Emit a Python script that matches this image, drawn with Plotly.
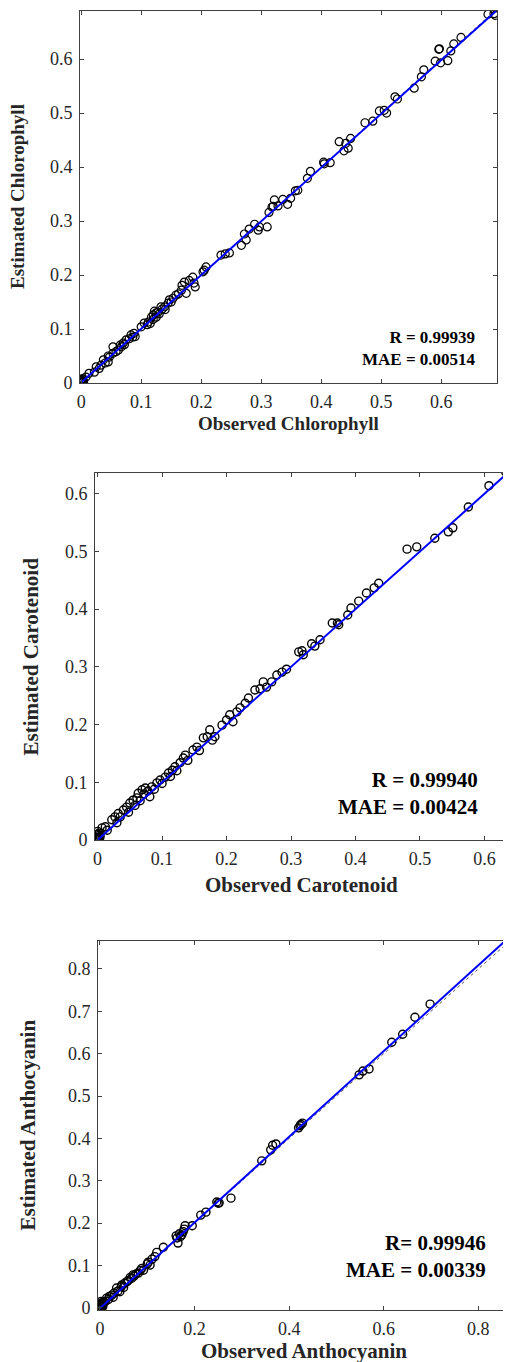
import numpy as np
import plotly.graph_objects as go

W, H = 511, 1362
OFF = 8  # the page body keeps its default 8px margin

# ---- data ----
obs_chl = [0.0, 0.001, 0.002, 0.003, 0.0, 0.004, 0.001, 0.002, 0.003, 0.008, 0.013, 0.022, 0.025,
           0.033, 0.037, 0.045, 0.047, 0.053, 0.053, 0.062, 0.067, 0.07, 0.075, 0.086, 0.083, 0.088,
           0.1, 0.105, 0.112, 0.117, 0.125, 0.122, 0.128, 0.133, 0.139, 0.145, 0.147, 0.153, 0.158,
           0.167, 0.168, 0.175, 0.172, 0.18, 0.186, 0.19, 0.188, 0.203, 0.205, 0.208, 0.233, 0.24,
           0.247, 0.267, 0.272, 0.275, 0.28, 0.289, 0.297, 0.295, 0.31, 0.313, 0.32, 0.322, 0.318,
           0.328, 0.336, 0.344, 0.349, 0.361, 0.357, 0.377, 0.382, 0.404, 0.405, 0.415, 0.43, 0.438,
           0.441, 0.445, 0.449, 0.473, 0.486, 0.497, 0.505, 0.509, 0.523, 0.527, 0.555, 0.567, 0.571,
           0.59, 0.596, 0.597, 0.599, 0.611, 0.616, 0.621, 0.633, 0.678, 0.69, 0.688,
           0.03, 0.04, 0.045, 0.058, 0.065, 0.072, 0.08, 0.09, 0.11, 0.115, 0.12, 0.13, 0.135, 0.14,
           0.15, 0.162, 0.12, 0.125]
est_chl = [0.0, 0.004, 0.008, 0.001, 0.006, 0.003, 0.001, 0.002, 0.006, 0.011, 0.018, 0.02, 0.03,
           0.033, 0.043, 0.039, 0.048, 0.055, 0.067, 0.061, 0.067, 0.074, 0.08, 0.085, 0.089, 0.092,
           0.104, 0.111, 0.113, 0.122, 0.122, 0.133, 0.131, 0.141, 0.141, 0.148, 0.154, 0.157, 0.163,
           0.172, 0.181, 0.166, 0.187, 0.19, 0.196, 0.178, 0.185, 0.206, 0.209, 0.215, 0.237, 0.239,
           0.241, 0.255, 0.276, 0.265, 0.285, 0.294, 0.289, 0.283, 0.289, 0.316, 0.327, 0.339, 0.326,
           0.328, 0.34, 0.331, 0.342, 0.357, 0.356, 0.379, 0.392, 0.409, 0.406, 0.408, 0.447, 0.43,
           0.444, 0.435, 0.453, 0.482, 0.485, 0.504, 0.505, 0.5, 0.53, 0.526, 0.546, 0.567, 0.58,
           0.596, 0.618, 0.619, 0.593, 0.597, 0.615, 0.628, 0.64, 0.683, 0.681, 0.684,
           0.027, 0.037, 0.05, 0.058, 0.07, 0.071, 0.082, 0.086, 0.108, 0.11, 0.118, 0.128, 0.137,
           0.136, 0.15, 0.165, 0.126, 0.13]

obs_car = [0.0, 0.001, 0.002, 0.0, 0.003, 0.001, 0.0, 0.002, 0.004, 0.001, 0.007, 0.012, 0.015,
           0.022, 0.027, 0.032, 0.03, 0.035, 0.04, 0.045, 0.048, 0.05, 0.055, 0.058, 0.061, 0.063,
           0.066, 0.069, 0.072, 0.074, 0.078, 0.081, 0.084, 0.088, 0.092, 0.097, 0.1, 0.105, 0.11,
           0.113, 0.116, 0.12, 0.123, 0.128, 0.133, 0.136, 0.14, 0.148, 0.154, 0.158, 0.164, 0.17,
           0.174, 0.178, 0.182, 0.193, 0.2, 0.205, 0.21, 0.216, 0.221, 0.229, 0.234, 0.244, 0.252,
           0.257, 0.262, 0.27, 0.278, 0.286, 0.293, 0.312, 0.317, 0.319, 0.332, 0.337, 0.345, 0.364,
           0.372, 0.374, 0.388, 0.393, 0.405, 0.417, 0.429, 0.436, 0.48, 0.495, 0.523, 0.544, 0.551,
           0.575, 0.607, 0.633]
est_car = [0.0, 0.005, 0.008, 0.015, 0.002, 0.01, 0.004, 0.012, 0.006, 0.002, 0.021, 0.023, 0.017,
           0.035, 0.04, 0.046, 0.03, 0.04, 0.052, 0.057, 0.048, 0.064, 0.069, 0.06, 0.073, 0.081,
           0.068, 0.087, 0.08, 0.09, 0.085, 0.075, 0.092, 0.088, 0.099, 0.104, 0.098, 0.109, 0.116,
           0.11, 0.121, 0.127, 0.12, 0.134, 0.142, 0.147, 0.138, 0.156, 0.161, 0.155, 0.177, 0.179,
           0.191, 0.173, 0.179, 0.199, 0.208, 0.217, 0.205, 0.222, 0.229, 0.237, 0.246, 0.26, 0.262,
           0.274, 0.265, 0.274, 0.286, 0.291, 0.296, 0.326, 0.328, 0.321, 0.34, 0.336, 0.347, 0.376,
           0.376, 0.373, 0.39, 0.402, 0.414, 0.428, 0.437, 0.445, 0.504, 0.508, 0.523, 0.534, 0.541,
           0.577, 0.614, 0.638]

obs_ant = [0.0, 0.001, 0.002, 0.003, 0.0, 0.005, 0.004, 0.007, 0.002, 0.006, 0.0, 0.009, 0.012,
           0.014, 0.018, 0.02, 0.025, 0.028, 0.03, 0.035, 0.038, 0.042, 0.045, 0.046, 0.05, 0.052,
           0.057, 0.06, 0.064, 0.067, 0.07, 0.072, 0.076, 0.081, 0.085, 0.088, 0.092, 0.1, 0.102,
           0.106, 0.11, 0.116, 0.12, 0.134, 0.161, 0.163, 0.165, 0.168, 0.17, 0.173, 0.176, 0.178,
           0.18, 0.195, 0.213, 0.224, 0.247, 0.25, 0.252, 0.277, 0.342, 0.361, 0.365, 0.372, 0.42,
           0.423, 0.428, 0.425, 0.548, 0.556, 0.569, 0.617, 0.64, 0.666, 0.698, 0.865]
est_ant = [0.0, 0.004, 0.008, 0.001, 0.01, 0.006, 0.012, 0.011, 0.015, 0.003, 0.006, 0.014, 0.016,
           0.023, 0.02, 0.027, 0.03, 0.025, 0.035, 0.047, 0.04, 0.038, 0.05, 0.054, 0.048, 0.058,
           0.062, 0.065, 0.072, 0.07, 0.078, 0.075, 0.08, 0.082, 0.088, 0.093, 0.089, 0.104, 0.108,
           0.101, 0.115, 0.121, 0.131, 0.143, 0.17, 0.165, 0.153, 0.175, 0.168, 0.172, 0.18, 0.186,
           0.194, 0.194, 0.219, 0.226, 0.25, 0.247, 0.248, 0.259, 0.347, 0.373, 0.384, 0.387, 0.425,
           0.43, 0.436, 0.433, 0.55, 0.559, 0.564, 0.627, 0.646, 0.686, 0.717, 0.858]

# fitted line (slope, intercept)
fit_chl = (0.995, 0.001)
fit_car = (1.0, 0.0)
fit_ant = (1.012, -0.001)

panels = [
    dict(x=obs_chl, y=est_chl, fit=fit_chl, xr=[-0.002, 0.693], yr=[0, 0.689],
         xt=[0, 0.1, 0.2, 0.3, 0.4, 0.5, 0.6], yt=[0, 0.1, 0.2, 0.3, 0.4, 0.5, 0.6],
         px=(80, 497), py=(11, 383), xtitle="Observed Chlorophyll", ytitle="Estimated Chlorophyll",
         stats="R = 0.99939<br>MAE = 0.00514", sx=478, sy=348, tsize=19, ssize=17,
         ytx=17, xty=423, mw=1.2),
    dict(x=obs_car, y=est_car, fit=fit_car, xr=[-0.004, 0.635], yr=[0, 0.636],
         xt=[0, 0.1, 0.2, 0.3, 0.4, 0.5, 0.6], yt=[0, 0.1, 0.2, 0.3, 0.4, 0.5, 0.6],
         px=(95, 507), py=(473, 840), xtitle="Observed Carotenoid", ytitle="Estimated Carotenoid",
         stats="R = 0.99940<br>MAE = 0.00424", sx=480, sy=793, tsize=21, ssize=21,
         ytx=30, xty=885, mw=1.4),
    dict(x=obs_ant, y=est_ant, fit=fit_ant, xr=[-0.0042, 0.867], yr=[-0.005, 0.866],
         xt=[0, 0.2, 0.4, 0.6, 0.8], yt=[0, 0.1, 0.2, 0.3, 0.4, 0.5, 0.6, 0.7, 0.8],
         px=(98, 510), py=(941, 1310), xtitle="Observed Anthocyanin", ytitle="Estimated Anthocyanin",
         stats="R= 0.99946<br>MAE = 0.00339", sx=488, sy=1256, tsize=21, ssize=21,
         ytx=27, xty=1351, mw=1.4),
]

FW, FH = W - OFF, H - OFF


def fx_(px):
    return (px - OFF) / FW


def fy_(py):
    return 1 - (py - OFF) / FH


fig = go.Figure()
axis_col = "#404040"
txt_col = "#262626"
font_fam = "Liberation Serif"
layout = {}
annotations = []

for i, p in enumerate(panels, start=1):
    xa = "x" if i == 1 else f"x{i}"
    ya = "y" if i == 1 else f"y{i}"
    # y = x reference (dotted)
    ref = [0, min(p["xr"][1], p["yr"][1])]
    fig.add_trace(go.Scatter(x=ref, y=ref, mode="lines", xaxis=xa, yaxis=ya,
                             line=dict(color="#555555", width=1, dash="dot"), showlegend=False))
    fig.add_trace(go.Scatter(x=p["x"], y=p["y"], mode="markers", xaxis=xa, yaxis=ya,
                             marker=dict(symbol="circle-open", size=8, color="black",
                                         line=dict(width=p["mw"], color="black")),
                             showlegend=False))
    m, b = p["fit"]
    x_end = min(p["xr"][1], (p["yr"][1] - b) / m)
    lx = np.array([0.0, x_end])
    fig.add_trace(go.Scatter(x=lx, y=m * lx + b, mode="lines", xaxis=xa, yaxis=ya,
                             line=dict(color="#0000ff", width=2), showlegend=False))

    common = dict(showline=True, linecolor=axis_col, linewidth=1, mirror="ticks",
                  ticks="inside", ticklen=4, tickcolor=axis_col, showgrid=False, zeroline=False,
                  tickfont=dict(family=font_fam, size=18, color=txt_col), automargin=False)
    ax_key = "xaxis" if i == 1 else f"xaxis{i}"
    ay_key = "yaxis" if i == 1 else f"yaxis{i}"
    layout[ax_key] = dict(common, domain=[fx_(p["px"][0]), fx_(p["px"][1])], range=p["xr"],
                          tickvals=p["xt"], anchor=ya, ticklabelstandoff=2)
    layout[ay_key] = dict(common, domain=[fy_(p["py"][1]), fy_(p["py"][0])], range=p["yr"],
                          tickvals=p["yt"], anchor=xa, ticklabelstandoff=3)

    cx = (p["px"][0] + p["px"][1]) / 2
    cy = (p["py"][0] + p["py"][1]) / 2
    annotations.append(dict(text="<b>%s</b>" % p["xtitle"], x=fx_(cx), y=fy_(p["xty"]),
                            xref="paper", yref="paper", showarrow=False, xanchor="center",
                            yanchor="middle", font=dict(family=font_fam, size=p["tsize"], color=txt_col)))
    annotations.append(dict(text="<b>%s</b>" % p["ytitle"], x=fx_(p["ytx"]), y=fy_(cy),
                            xref="paper", yref="paper", showarrow=False, textangle=-90,
                            xanchor="center", yanchor="middle",
                            font=dict(family=font_fam, size=p["tsize"], color=txt_col)))
    annotations.append(dict(text="<b>%s</b>" % p["stats"], x=fx_(p["sx"]), y=fy_(p["sy"]),
                            xref="paper", yref="paper", showarrow=False, xanchor="right",
                            yanchor="middle", align="right",
                            font=dict(family=font_fam, size=p["ssize"], color="black")))

fig.update_layout(width=FW, height=FH, margin=dict(l=0, r=0, t=0, b=0),
                  font=dict(family=font_fam, color=txt_col),
                  plot_bgcolor="white", paper_bgcolor="white",
                  annotations=annotations, **layout)
fig.write_html("out.html")
